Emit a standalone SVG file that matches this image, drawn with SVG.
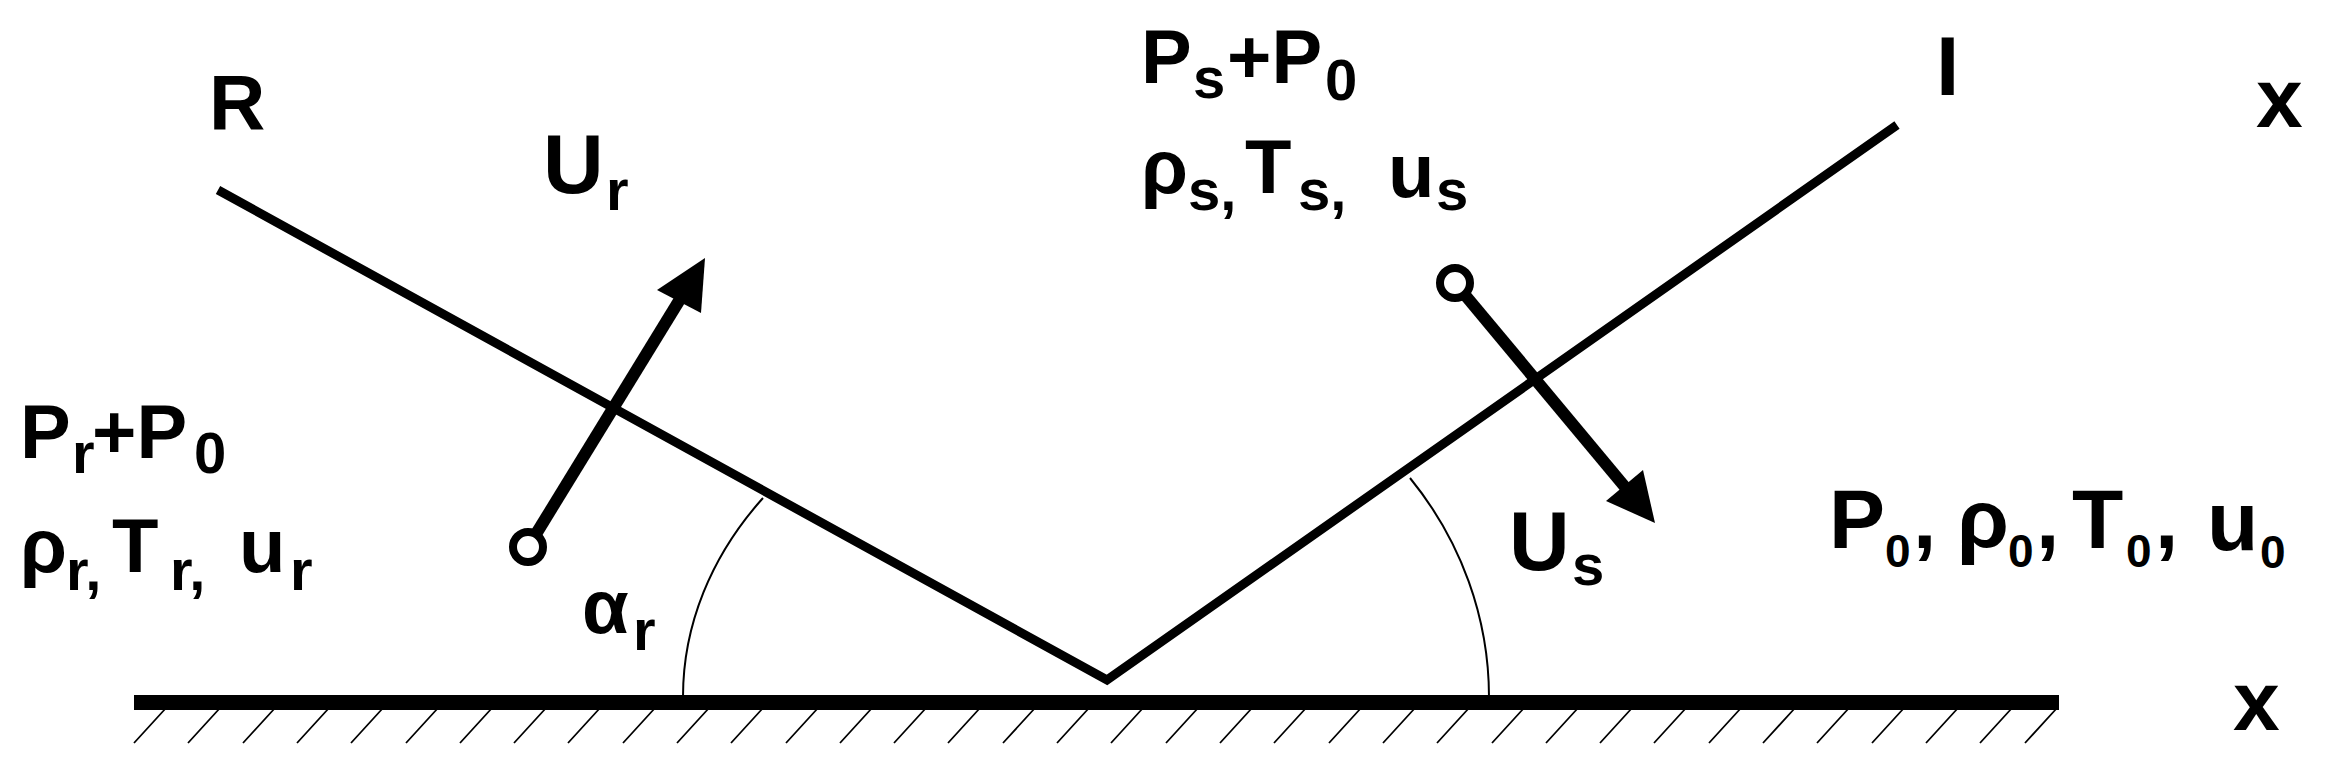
<svg xmlns="http://www.w3.org/2000/svg" width="2327" height="775" viewBox="0 0 2327 775">
<style>
text{font-family:"Liberation Sans",Arial,sans-serif;font-weight:bold;fill:#000}
.big{font-size:84px}
.mid{font-size:76px}
.sub{font-size:58px}
.sm{font-size:46px}
.front{stroke:#000;stroke-width:9;fill:none;stroke-linecap:butt;stroke-linejoin:miter}
.vec{stroke:#000;stroke-width:12;fill:none}
.dot{stroke:#000;stroke-width:8;fill:#fff}
.arc{stroke:#000;stroke-width:2;fill:none}
.hatch{stroke:#000;stroke-width:1.8;fill:none}
</style>
<rect width="2327" height="775" fill="#fff"/>
<g id="wall">
<rect x="134" y="695" width="1925" height="15" fill="#000"/>
<path class="hatch" d="M166 708l-32 35M220 708l-32 35M275 708l-32 35M329 708l-32 35M383 708l-32 35M438 708l-32 35M492 708l-32 35M546 708l-32 35M600 708l-32 35M655 708l-32 35M709 708l-32 35M763 708l-32 35M818 708l-32 35M872 708l-32 35M926 708l-32 35M980 708l-32 35M1035 708l-32 35M1089 708l-32 35M1143 708l-32 35M1198 708l-32 35M1252 708l-32 35M1306 708l-32 35M1361 708l-32 35M1415 708l-32 35M1469 708l-32 35M1524 708l-32 35M1578 708l-32 35M1632 708l-32 35M1686 708l-32 35M1741 708l-32 35M1795 708l-32 35M1849 708l-32 35M1904 708l-32 35M1958 708l-32 35M2012 708l-32 35M2057 708l-32 35"/>
</g>
<g id="connectors">
<path id="shock-R-I" class="front" d="M218 190L1107 680L1897 125"/>
<path id="angle-r" class="arc" d="M683 697A424 340 0 0 1 763 498"/>
<path id="angle-s" class="arc" d="M1489 697A382 360 0 0 0 1410 478"/>
<g id="vec-Ur">
<line class="vec" x1="536" y1="534" x2="682" y2="296"/>
<polygon points="705,258 657,290 701,313"/>
<circle class="dot" cx="528" cy="547" r="15"/>
</g>
<g id="vec-Us">
<line class="vec" x1="1465" y1="295" x2="1630" y2="493"/>
<polygon points="1655,523 1606,501 1643,470"/>
<circle class="dot" cx="1455" cy="283" r="15"/>
</g>
</g>
<g id="label-R"><text x="209" y="129" style="font-size:78px">R</text></g>
<g id="label-I"><text class="big" x="1936" y="95">I</text></g>
<g id="label-x-top"><text class="big" x="2256" y="127">x</text></g>
<g id="label-x-bottom"><text class="big" x="2233" y="730">x</text></g>
<g id="label-Ur"><text class="big" x="543" y="193">U<tspan class="sub" x="606" y="210">r</tspan></text></g>
<g id="label-Us"><text class="big" x="1509" y="570">U<tspan class="sub" x="1572" y="585">s</tspan></text></g>
<g id="label-alpha"><text class="mid" x="582" y="633">α<tspan class="sub" x="633" y="650">r</tspan></text></g>
<g id="state-s">
<text class="mid" x="1141" y="83">P<tspan class="sub" x="1193" y="98">s</tspan><tspan x="1227" y="83">+P</tspan><tspan class="sub" x="1325" y="100">0</tspan></text>
<text class="mid" x="1141" y="193">ρ<tspan class="sub" x="1188" y="210">s,</tspan><tspan x="1245" y="193">T</tspan><tspan class="sub" x="1298" y="210">s,</tspan><tspan x="1388" y="197">u</tspan><tspan class="sub" x="1436" y="210">s</tspan></text>
</g>
<g id="state-r">
<text class="mid" x="20" y="458">P<tspan class="sub" x="72" y="473">r</tspan><tspan x="92" y="458">+P</tspan><tspan class="sub" x="194" y="473">0</tspan></text>
<text class="mid" x="20" y="572">ρ<tspan class="sub" x="66" y="590">r,</tspan><tspan x="112" y="572">T</tspan><tspan class="sub" x="170" y="590">r,</tspan><tspan x="239" y="572">u</tspan><tspan class="sub" x="290" y="590">r</tspan></text>
</g>
<g id="state-0">
<text class="big" x="1829" y="548">P<tspan class="sm" x="1885" y="567">0</tspan><tspan x="1913" y="548">,</tspan><tspan x="1957" y="548">ρ</tspan><tspan class="sm" x="2008" y="567">0</tspan><tspan x="2036" y="548">,</tspan><tspan x="2072" y="548">T</tspan><tspan class="sm" x="2126" y="567">0</tspan><tspan x="2155" y="548">,</tspan><tspan x="2207" y="550">u</tspan><tspan class="sm" x="2260" y="568">0</tspan></text>
</g>
</svg>
